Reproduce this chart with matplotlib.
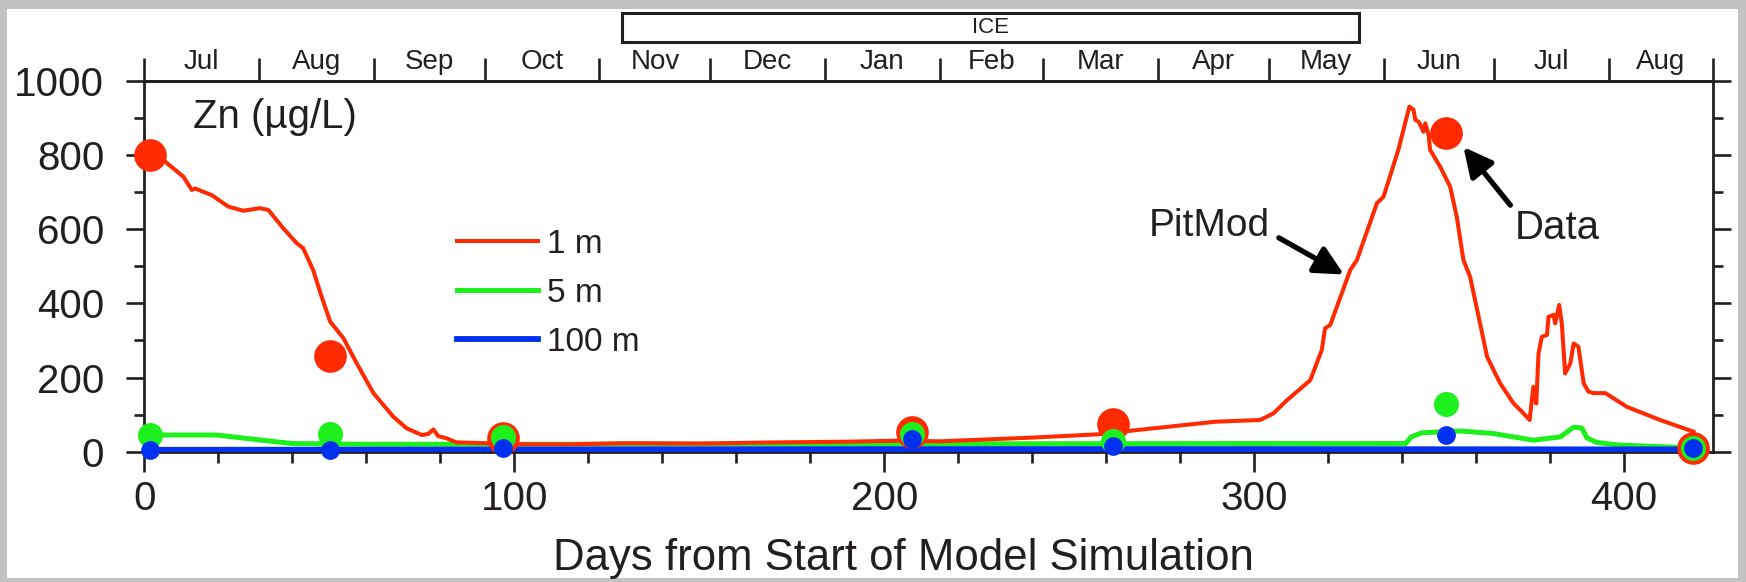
import matplotlib
matplotlib.use("Agg")
import matplotlib.pyplot as plt
from matplotlib.patches import Rectangle
from matplotlib.ticker import MultipleLocator

plt.rcParams['font.family'] = ['Liberation Sans', 'DejaVu Sans']

# model output (days from start, Zn ug/L)
red_days = [1.5, 5, 10.5, 12.8, 13.7, 18.2, 22.7, 26.7, 31.2, 33.5,
            37.5, 41.2, 42.9, 45.6, 47.9, 50.2, 53.8, 57.4, 61.9, 67.3,
            70.9, 75, 76.7, 78.1, 79.4, 81.7, 84.4, 88.9, 92, 100,
            115, 130, 150, 170, 190, 205, 215, 240, 258, 268,
            289.7, 301.6, 305.2, 308.9, 315.2, 318.3, 319.2, 320.6, 326, 327.8,
            333.2, 335, 339, 341.3, 342, 343.1, 343.6, 344.5, 345.4, 345.8,
            346.3, 347.2, 347.6, 350.3, 353, 354.8, 356.6, 358.4, 361.1, 363,
            366.5, 370.1, 372.4, 374.5, 375.5, 376.3, 376.9, 377.8, 379.2, 379.6,
            381, 381.4, 382.5, 383.2, 384.1, 385.5, 386.4, 387.7, 389.1, 390.4,
            391.8, 395, 400.8, 409.8, 418.8]
red_vals = [800, 787, 742, 706, 710, 692, 661, 650, 657, 652,
            603, 562, 549, 490, 418, 351, 306, 238, 158, 94,
            63, 45, 48, 60, 42, 36, 25, 24, 23, 20,
            20, 23, 22, 25, 27, 30, 28, 38, 47, 58,
            81, 85.5, 103, 139, 193, 274, 333, 342, 490, 517,
            670, 688, 814, 904, 931, 922, 895, 890, 872, 863,
            886, 854, 814, 769, 715, 634, 517, 472, 346, 256,
            185, 131, 108, 85.5, 175, 130, 265, 310, 315, 364,
            369, 346, 396, 346, 211, 238, 292, 283, 185, 162,
            158, 158, 121, 85.5, 54]

green_days = [1.5, 5, 19.5, 30, 40, 60, 100, 200, 300, 341,
              342.5, 345.4, 355.7, 364.7, 375.5, 382.8, 386.4, 388.6, 390, 392.7,
              398.5, 419]
green_vals = [45, 45, 45, 33, 22, 20, 20, 21, 22, 22,
              40, 51, 56, 49, 31, 40, 66, 64, 37, 25,
              18, 10]

blue_days = [1.5, 100, 200, 300, 419]
blue_vals = [5, 6, 7, 7, 6]

# measured samples
sample_days = [1.5, 50.2, 97, 207.5, 261.9, 352, 418.6]
red_pts = [800, 258, 36, 54, 74, 859, 9]
green_pts = [45, 47, 40, 48, 30, 130, 9]
blue_pts = [5, 5, 9, 33, 16, 45, 9]

# month boundaries on top axis (day 0 = 1 Jul)
month_starts = [0, 31, 62, 92, 123, 153, 184, 215, 243, 274, 304, 335, 365, 396, 424]
month_names = ['Jul', 'Aug', 'Sep', 'Oct', 'Nov', 'Dec', 'Jan', 'Feb', 'Mar',
               'Apr', 'May', 'Jun', 'Jul', 'Aug']
ice_start, ice_end = 129, 328.5

RED = '#ff2a00'
GREEN = '#1ef01e'
BLUE = '#0030f0'
INK = '#231f20'

fig = plt.figure(figsize=(17.46, 5.82), dpi=100, facecolor='#c2c2c2')
fig.patches.append(Rectangle((7 / 1746, 4 / 582), 1731 / 1746, 569 / 582,
                             transform=fig.transFigure, facecolor='white',
                             edgecolor='none', zorder=-10))
ax = fig.add_axes([0.08276, 0.22388, 0.89817, 0.63694])
ax.set_facecolor('white')

ax.plot(green_days, green_vals, color=GREEN, lw=3.6, label='5 m', zorder=2)
ax.plot(red_days, red_vals, color=RED, lw=2.9, label='1 m', zorder=3)
ax.plot(blue_days, blue_vals, color=BLUE, lw=4.2, label='100 m', zorder=4)

ax.plot(sample_days, red_pts, 'o', color=RED, ms=23.5, mew=0, zorder=5, clip_on=False)
ax.plot(sample_days, green_pts, 'o', color=GREEN, ms=18, mew=0, zorder=6, clip_on=False)
ax.plot(sample_days, blue_pts, 'o', color=BLUE, ms=13.5, mew=0, zorder=7, clip_on=False)

ax.set_xlim(0, 424)
ax.set_ylim(0, 1000)

ax.xaxis.set_major_locator(MultipleLocator(100))
ax.xaxis.set_minor_locator(MultipleLocator(20))
ax.yaxis.set_major_locator(MultipleLocator(200))
ax.yaxis.set_minor_locator(MultipleLocator(100))

for s in ax.spines.values():
    s.set_linewidth(2)
    s.set_color(INK)

ax.tick_params(axis='x', which='major', direction='out', length=14.4, width=1.9,
               color=INK, labelsize=29, pad=6, labelcolor=INK)
ax.tick_params(axis='x', which='minor', direction='out', length=8, width=1.9, color=INK)
ax.tick_params(axis='y', which='major', direction='out', length=13, width=1.9,
               color=INK, labelsize=29, pad=16, labelcolor=INK, right=True)
ax.tick_params(axis='y', which='minor', direction='out', length=7, width=1.9,
               color=INK, right=True)

top = ax.secondary_xaxis('top')
top.spines['top'].set_linewidth(2)
top.spines['top'].set_color(INK)
top.set_xticks(month_starts, labels=[''] * len(month_starts))
mids = [(a + b) / 2 for a, b in zip(month_starts[:-1], month_starts[1:])]
top.set_xticks(mids, labels=month_names, minor=True)
top.tick_params(which='major', direction='out', length=16.5, width=1.9, color=INK)
top.tick_params(which='minor', length=0, pad=4.3, labelsize=20, labelcolor=INK)

ax.set_xlabel('Days from Start of Model Simulation', fontsize=31.5, color=INK)
ax.xaxis.set_label_coords(0.484, -0.232)

ax.text(13.1, 873, 'Zn (µg/L)', fontsize=29, color=INK, va='baseline')
ax.text(271.6, 582, 'PitMod', fontsize=28, color=INK, va='baseline')
ax.text(370.6, 575, 'Data', fontsize=29, color=INK, va='baseline')

arrow = dict(arrowstyle='-|>,head_length=0.5,head_width=0.25', lw=3.8,
             color='black', mutation_scale=35, shrinkA=0, shrinkB=0)
ax.annotate('', xy=(324.3, 478), xytext=(306.7, 577), arrowprops=arrow)
ax.annotate('', xy=(356.6, 822), xytext=(369.3, 665), arrowprops=arrow)

ax.add_patch(Rectangle((ice_start, 1.1052), ice_end - ice_start, 0.0782,
                       transform=ax.get_xaxis_transform(), facecolor='white',
                       edgecolor=INK, lw=2.2, clip_on=False))
ax.text((ice_start + ice_end) / 2, 1.144, 'ICE', transform=ax.get_xaxis_transform(),
        ha='center', va='center', fontsize=16, color=INK)

handles, labels = ax.get_legend_handles_labels()
order = [1, 0, 2]
leg = ax.legend([handles[i] for i in order], [labels[i] for i in order],
                loc='upper left', bbox_to_anchor=(0.1993, 0.601), frameon=False,
                fontsize=24, handlelength=2.43, handletextpad=0.27,
                labelspacing=0.54, borderpad=0, borderaxespad=0)
for t in leg.get_texts():
    t.set_color(INK)

fig.savefig('out.png', dpi=100, facecolor=fig.get_facecolor())
